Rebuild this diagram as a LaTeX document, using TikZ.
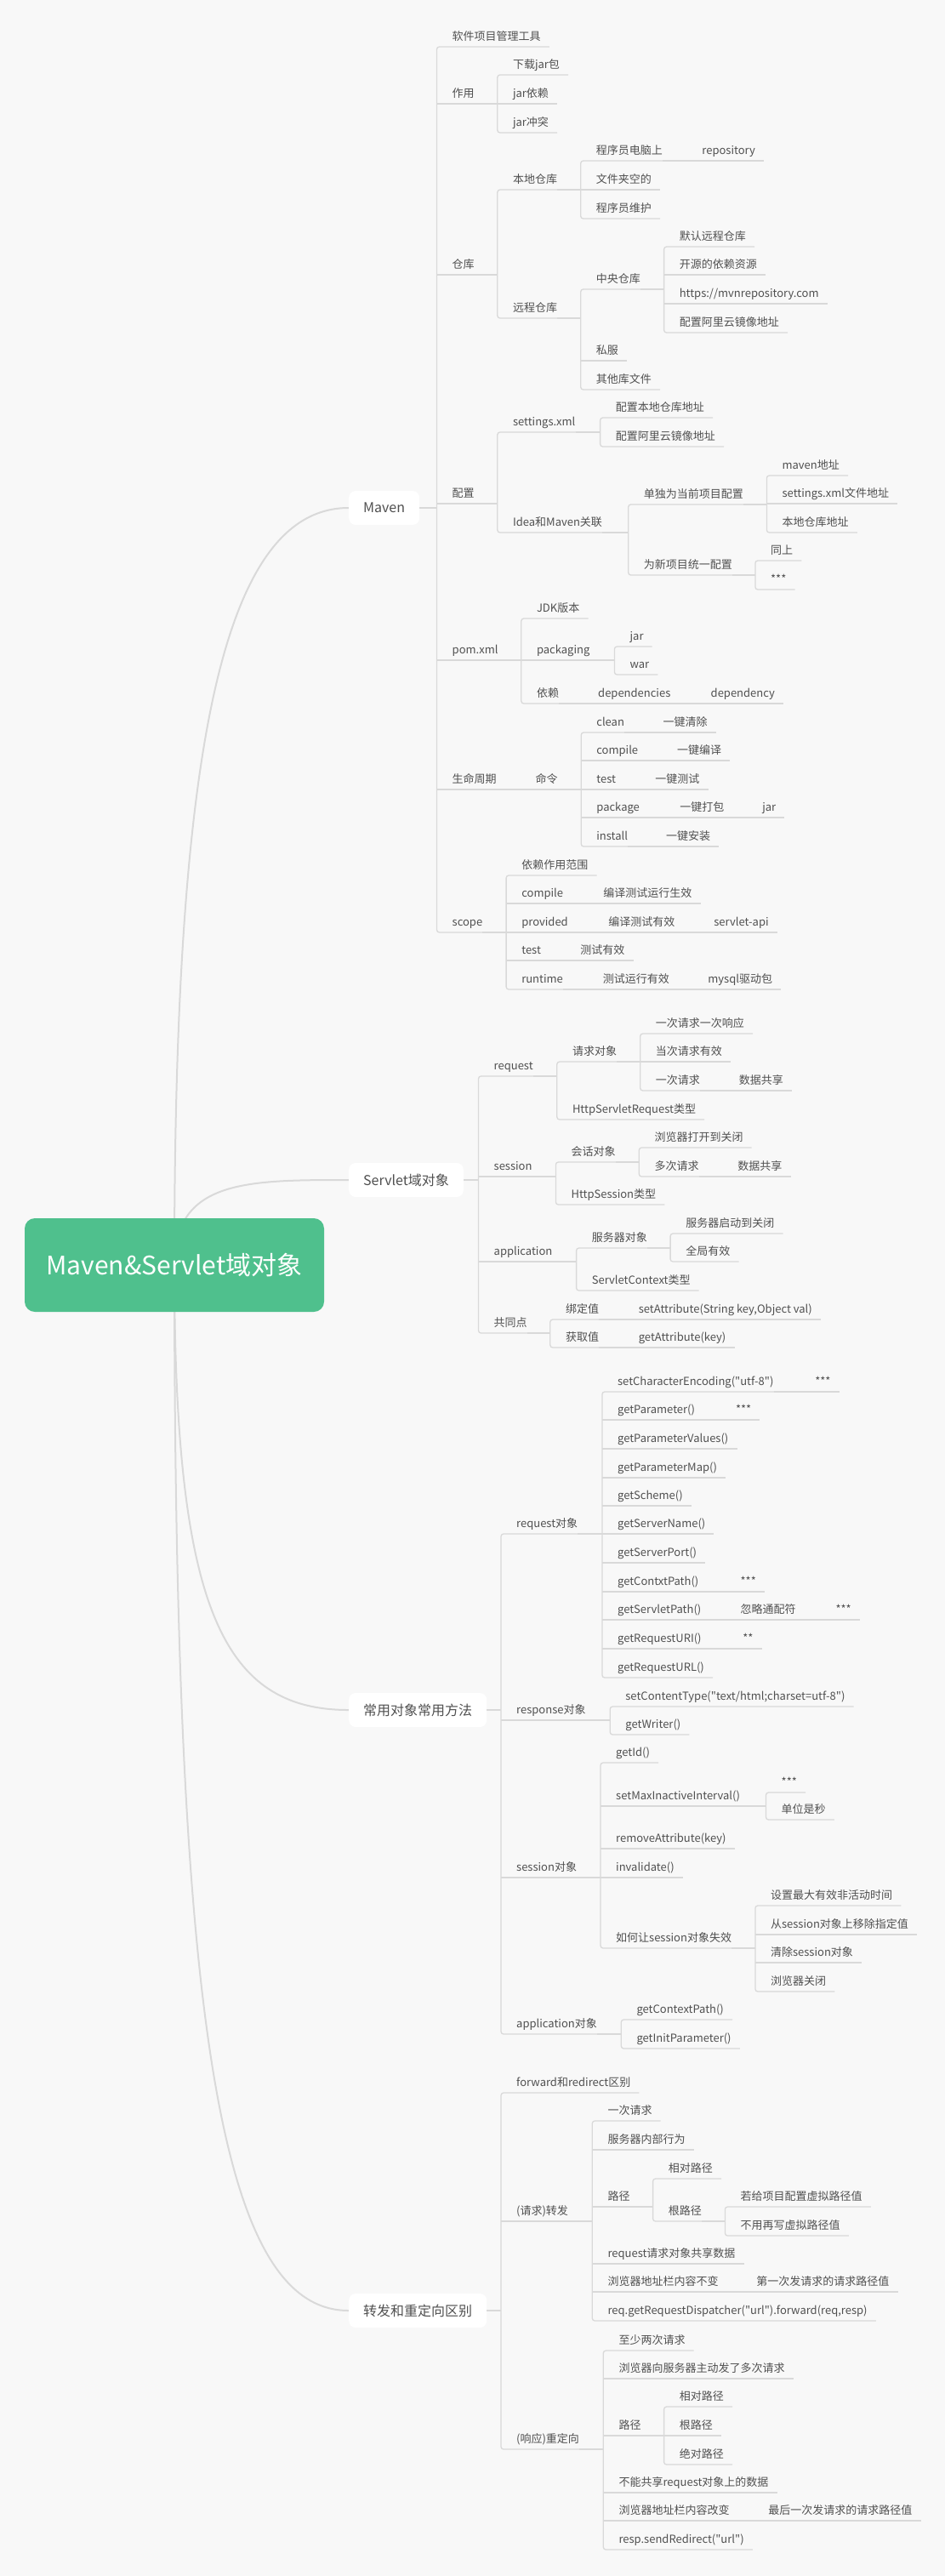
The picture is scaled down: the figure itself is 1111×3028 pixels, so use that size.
\documentclass[tikz,border=0pt]{standalone}
\usepackage{fontspec}
\setmainfont{Noto Sans CJK SC}[Ligatures=TeXOff]
\usepackage{tikz}
\usetikzlibrary{calc}
\usepackage{xcolor}

\definecolor{bgcol}{HTML}{F8F8F8}
\definecolor{linecol}{HTML}{D9D9D9}
\definecolor{txtcol}{HTML}{505050}
\definecolor{rootcol}{HTML}{4FC08D}

\pgfdeclarelayer{background}
\pgfsetlayers{background,main}

% parent, parent anchor, first child, middle children, last child
\newcommand{\mmbar}[5]{%
  \draw[link] (#1.#2) -- ($(#1.#2 -| #3.south west)+(-18,0)$);
  \draw[link, rounded corners=3pt] ([xshift=10pt]#3.south east) -- ([xshift=-18pt]#3.south west) -- ([xshift=-18pt]#5.south west) -- ([xshift=10pt]#5.south east);
  \if\relax\detokenize{#4}\relax\else
    \foreach \kid in {#4}{\draw[link] ([xshift=-18pt]\kid.south west) -- ([xshift=10pt]\kid.south east);}
  \fi}
% topic followed on the same line
\newcommand{\mmchain}[2]{\draw[link] (#1.south east) -- ([xshift=10pt]#2.south east);}

\begin{document}
\begin{tikzpicture}[
        x=1pt, y=-1pt,
        topic/.style={anchor=south west, inner xsep=0pt, inner ysep=4pt, text depth=3pt, text=txtcol, font=\fontsize{13}{15}\selectfont},
        mainbox/.style={anchor=west, fill=white, rounded corners=8pt, inner xsep=17pt, minimum height=40pt, text=txtcol, font=\fontsize{16}{19}\selectfont},
        rootbox/.style={fill=rootcol, text=white, rounded corners=12pt, minimum width=352pt, minimum height=110pt, font=\fontsize{30}{36}\selectfont},
        link/.style={draw=linecol, line width=1.3pt},
        trunk/.style={draw=linecol, line width=2pt}
      ]

      \useasboundingbox (0,0) rectangle (1111,3028);

      % Root
      \node [rootbox] (root) at (205,1487) {Maven\&Servlet域对象};

      % Maven
      \node [mainbox] (mv) at (410,597) {Maven};
      \node [topic] (mvA) at (531.5,55) {软件项目管理工具};
      \node [topic] (mvB) at (531.5,122) {作用};
      \node [topic] (mvB1) at (602.8,88) {下载jar包};
      \node [topic] (mvB2) at (602.8,122) {jar依赖};
      \node [topic] (mvB3) at (602.8,156) {jar冲突};
      \node [topic] (mvC) at (531.5,323) {仓库};
      \node [topic] (mvC1) at (602.8,223) {本地仓库};
      \node [topic] (mvC11) at (700.7,189) {程序员电脑上};
      \node [topic] (mvC111) at (825.2,189) {repository};
      \node [topic] (mvC12) at (700.7,223) {文件夹空的};
      \node [topic] (mvC13) at (700.7,257) {程序员维护};
      \node [topic] (mvC2) at (602.8,374) {远程仓库};
      \node [topic] (mvC21) at (700.7,340) {中央仓库};
      \node [topic] (mvC211) at (798.6,290) {默认远程仓库};
      \node [topic] (mvC212) at (798.6,323) {开源的依赖资源};
      \node [topic] (mvC213) at (798.6,357) {https://mvnrepository.com};
      \node [topic] (mvC214) at (798.6,391) {配置阿里云镜像地址};
      \node [topic] (mvC22) at (700.7,424) {私服};
      \node [topic] (mvC23) at (700.7,458) {其他库文件};
      \node [topic] (mvD) at (531.5,592) {配置};
      \node [topic] (mvD1) at (602.8,508) {settings.xml};
      \node [topic] (mvD11) at (723.6,491) {配置本地仓库地址};
      \node [topic] (mvD12) at (723.6,525) {配置阿里云镜像地址};
      \node [topic] (mvD2) at (602.8,626) {Idea和Maven关联};
      \node [topic] (mvD21) at (756.7,593) {单独为当前项目配置};
      \node [topic] (mvD211) at (919.4,559) {maven地址};
      \node [topic] (mvD212) at (919.4,592) {settings.xml文件地址};
      \node [topic] (mvD213) at (919.4,626) {本地仓库地址};
      \node [topic] (mvD22) at (756.7,676) {为新项目统一配置};
      \node [topic] (mvD221) at (905.9,659) {同上};
      \node [topic] (mvD222) at (905.9,693) {***};
      \node [topic] (mvE) at (531.5,776) {pom.xml};
      \node [topic] (mvE1) at (630.8,727) {JDK版本};
      \node [topic] (mvE2) at (630.8,776) {packaging};
      \node [topic] (mvE21) at (740.4,760) {jar};
      \node [topic] (mvE22) at (740.4,793) {war};
      \node [topic] (mvE3) at (630.8,827) {依赖};
      \node [topic] (mvE31) at (703,827) {dependencies};
      \node [topic] (mvE311) at (835.5,827) {dependency};
      \node [topic] (mvF) at (531.5,928) {生命周期};
      \node [topic] (mvF1) at (629.4,928) {命令};
      \node [topic] (mvF11) at (701.2,861) {clean};
      \node [topic] (mvF111) at (779.5,861) {一键清除};
      \node [topic] (mvF12) at (701.2,894) {compile};
      \node [topic] (mvF121) at (795.9,894) {一键编译};
      \node [topic] (mvF13) at (701.2,928) {test};
      \node [topic] (mvF131) at (770.2,928) {一键测试};
      \node [topic] (mvF14) at (701.2,961) {package};
      \node [topic] (mvF141) at (799.1,961) {一键打包};
      \node [topic] (mvF1411) at (896.1,961) {jar};
      \node [topic] (mvF15) at (701.2,995) {install};
      \node [topic] (mvF151) at (782.8,995) {一键安装};
      \node [topic] (mvG) at (531.5,1096) {scope};
      \node [topic] (mvG1) at (613.1,1029) {依赖作用范围};
      \node [topic] (mvG2) at (613.1,1062) {compile};
      \node [topic] (mvG21) at (709.1,1062) {编译测试运行生效};
      \node [topic] (mvG3) at (613.1,1096) {provided};
      \node [topic] (mvG31) at (715.2,1096) {编译测试有效};
      \node [topic] (mvG311) at (839.2,1096) {servlet-api};
      \node [topic] (mvG4) at (613.1,1129) {test};
      \node [topic] (mvG41) at (682.1,1129) {测试有效};
      \node [topic] (mvG5) at (613.1,1163) {runtime};
      \node [topic] (mvG51) at (708.7,1163) {测试运行有效};
      \node [topic] (mvG511) at (832.2,1163) {mysql驱动包};

      \mmbar{mv}{east}{mvA}{mvB,mvC,mvD,mvE,mvF}{mvG}
      \mmbar{mvB}{south east}{mvB1}{mvB2}{mvB3}
      \mmbar{mvC}{south east}{mvC1}{}{mvC2}
      \mmbar{mvC1}{south east}{mvC11}{mvC12}{mvC13}
      \mmchain{mvC11}{mvC111}
      \mmbar{mvC2}{south east}{mvC21}{mvC22}{mvC23}
      \mmbar{mvC21}{south east}{mvC211}{mvC212,mvC213}{mvC214}
      \mmbar{mvD}{south east}{mvD1}{}{mvD2}
      \mmbar{mvD1}{south east}{mvD11}{}{mvD12}
      \mmbar{mvD2}{south east}{mvD21}{}{mvD22}
      \mmbar{mvD21}{south east}{mvD211}{mvD212}{mvD213}
      \mmbar{mvD22}{south east}{mvD221}{}{mvD222}
      \mmbar{mvE}{south east}{mvE1}{mvE2}{mvE3}
      \mmbar{mvE2}{south east}{mvE21}{}{mvE22}
      \mmchain{mvE3}{mvE31}
      \mmchain{mvE31}{mvE311}
      \mmchain{mvF}{mvF1}
      \mmbar{mvF1}{south east}{mvF11}{mvF12,mvF13,mvF14}{mvF15}
      \mmchain{mvF11}{mvF111}
      \mmchain{mvF12}{mvF121}
      \mmchain{mvF13}{mvF131}
      \mmchain{mvF14}{mvF141}
      \mmchain{mvF141}{mvF1411}
      \mmchain{mvF15}{mvF151}
      \mmbar{mvG}{south east}{mvG1}{mvG2,mvG3,mvG4}{mvG5}
      \mmchain{mvG2}{mvG21}
      \mmchain{mvG3}{mvG31}
      \mmchain{mvG31}{mvG311}
      \mmchain{mvG4}{mvG41}
      \mmchain{mvG5}{mvG51}
      \mmchain{mvG51}{mvG511}

      % Servlet scope objects
      \node [mainbox] (sv) at (410,1387) {Servlet域对象};
      \node [topic] (svA) at (580.5,1265) {request};
      \node [topic] (svA1) at (672.8,1248) {请求对象};
      \node [topic] (svA11) at (770.7,1215) {一次请求一次响应};
      \node [topic] (svA12) at (770.7,1248) {当次请求有效};
      \node [topic] (svA13) at (770.7,1282) {一次请求};
      \node [topic] (svA131) at (868.6,1282) {数据共享};
      \node [topic] (svA2) at (672.8,1316) {HttpServletRequest类型};
      \node [topic] (svB) at (580.5,1383) {session};
      \node [topic] (svB1) at (671.4,1366) {会话对象};
      \node [topic] (svB11) at (769.3,1349) {浏览器打开到关闭};
      \node [topic] (svB12) at (769.3,1383) {多次请求};
      \node [topic] (svB121) at (867.2,1383) {数据共享};
      \node [topic] (svB2) at (671.4,1416) {HttpSession类型};
      \node [topic] (svC) at (580.5,1483) {application};
      \node [topic] (svC1) at (695.6,1467) {服务器对象};
      \node [topic] (svC11) at (806.1,1450) {服务器启动到关闭};
      \node [topic] (svC12) at (806.1,1483) {全局有效};
      \node [topic] (svC2) at (695.6,1517) {ServletContext类型};
      \node [topic] (svD) at (580.5,1567) {共同点};
      \node [topic] (svD1) at (664.8,1551) {绑定值};
      \node [topic] (svD11) at (750.6,1551) {setAttribute(String key,Object val)};
      \node [topic] (svD2) at (664.8,1584) {获取值};
      \node [topic] (svD21) at (750.6,1584) {getAttribute(key)};

      \mmbar{sv}{east}{svA}{svB,svC}{svD}
      \mmbar{svA}{south east}{svA1}{}{svA2}
      \mmbar{svA1}{south east}{svA11}{svA12}{svA13}
      \mmchain{svA13}{svA131}
      \mmbar{svB}{south east}{svB1}{}{svB2}
      \mmbar{svB1}{south east}{svB11}{}{svB12}
      \mmchain{svB12}{svB121}
      \mmbar{svC}{south east}{svC1}{}{svC2}
      \mmbar{svC1}{south east}{svC11}{}{svC12}
      \mmbar{svD}{south east}{svD1}{}{svD2}
      \mmchain{svD1}{svD11}
      \mmchain{svD2}{svD21}

      % Common objects and methods
      \node [mainbox] (cy) at (410,2010) {常用对象常用方法};
      \node [topic] (cyA) at (607,1803) {request对象};
      \node [topic] (cyA1) at (725.9,1636) {setCharacterEncoding("utf-8")};
      \node [topic] (cyA1s) at (958.1,1636) {***};
      \node [topic] (cyA2) at (725.9,1669) {getParameter()};
      \node [topic] (cyA2s) at (864.8,1669) {***};
      \node [topic] (cyA3) at (725.9,1703) {getParameterValues()};
      \node [topic] (cyA4) at (725.9,1737) {getParameterMap()};
      \node [topic] (cyA5) at (725.9,1770) {getScheme()};
      \node [topic] (cyA6) at (725.9,1803) {getServerName()};
      \node [topic] (cyA7) at (725.9,1837) {getServerPort()};
      \node [topic] (cyA8) at (725.9,1871) {getContxtPath()};
      \node [topic] (cyA8s) at (870.4,1871) {***};
      \node [topic] (cyA9) at (725.9,1904) {getServletPath()};
      \node [topic] (cyA9a) at (870.4,1904) {忽略通配符};
      \node [topic] (cyA9b) at (982.3,1904) {***};
      \node [topic] (cyA10) at (725.9,1938) {getRequestURI()};
      \node [topic] (cyA10s) at (873.2,1938) {**};
      \node [topic] (cyA11) at (725.9,1972) {getRequestURL()};
      \node [topic] (cyB) at (607,2022) {response对象};
      \node [topic] (cyB1) at (735.2,2006) {setContentType("text/html;charset=utf-8")};
      \node [topic] (cyB2) at (735.2,2039) {getWriter()};
      \node [topic] (cyC) at (607,2207) {session对象};
      \node [topic] (cyC1) at (724,2072) {getId()};
      \node [topic] (cyC2) at (724,2123) {setMaxInactiveInterval()};
      \node [topic] (cyC21) at (918.5,2107) {***};
      \node [topic] (cyC22) at (918.5,2139) {单位是秒};
      \node [topic] (cyC3) at (724,2173) {removeAttribute(key)};
      \node [topic] (cyC4) at (724,2207) {invalidate()};
      \node [topic] (cyC5) at (724,2290) {如何让session对象失效};
      \node [topic] (cyC51) at (905.9,2240) {设置最大有效非活动时间};
      \node [topic] (cyC52) at (905.9,2274) {从session对象上移除指定值};
      \node [topic] (cyC53) at (905.9,2307) {清除session对象};
      \node [topic] (cyC54) at (905.9,2341) {浏览器关闭};
      \node [topic] (cyD) at (607,2391) {application对象};
      \node [topic] (cyD1) at (748.3,2374) {getContextPath()};
      \node [topic] (cyD2) at (748.3,2408) {getInitParameter()};

      \mmbar{cy}{east}{cyA}{cyB,cyC}{cyD}
      \mmbar{cyA}{south east}{cyA1}{cyA2,cyA3,cyA4,cyA5,cyA6,cyA7,cyA8,cyA9,cyA10}{cyA11}
      \mmchain{cyA1}{cyA1s}
      \mmchain{cyA2}{cyA2s}
      \mmchain{cyA8}{cyA8s}
      \mmchain{cyA9}{cyA9a}
      \mmchain{cyA9a}{cyA9b}
      \mmchain{cyA10}{cyA10s}
      \mmbar{cyB}{south east}{cyB1}{}{cyB2}
      \mmbar{cyC}{south east}{cyC1}{cyC2,cyC3,cyC4}{cyC5}
      \mmbar{cyC2}{south east}{cyC21}{}{cyC22}
      \mmbar{cyC5}{south east}{cyC51}{cyC52,cyC53}{cyC54}
      \mmbar{cyD}{south east}{cyD1}{}{cyD2}

      % Forward and redirect
      \node [mainbox] (zf) at (410,2716) {转发和重定向区别};
      \node [topic] (zfA) at (607,2460) {forward和redirect区别};
      \node [topic] (zfB) at (607,2611) {(请求)转发};
      \node [topic] (zfB1) at (714.3,2493) {一次请求};
      \node [topic] (zfB2) at (714.3,2527) {服务器内部行为};
      \node [topic] (zfB3) at (714.3,2594) {路径};
      \node [topic] (zfB31) at (785.6,2561) {相对路径};
      \node [topic] (zfB32) at (785.6,2611) {根路径};
      \node [topic] (zfB321) at (870.4,2594) {若给项目配置虚拟路径值};
      \node [topic] (zfB322) at (870.4,2628) {不用再写虚拟路径值};
      \node [topic] (zfB4) at (714.3,2661) {request请求对象共享数据};
      \node [topic] (zfB5) at (714.3,2694) {浏览器地址栏内容不变};
      \node [topic] (zfB51) at (889.1,2694) {第一次发请求的请求路径值};
      \node [topic] (zfB6) at (714.3,2728) {req.getRequestDispatcher("url").forward(req,resp)};
      \node [topic] (zfC) at (607,2879) {(响应)重定向};
      \node [topic] (zfC1) at (727.3,2763) {至少两次请求};
      \node [topic] (zfC2) at (727.3,2796) {浏览器向服务器主动发了多次请求};
      \node [topic] (zfC3) at (727.3,2863) {路径};
      \node [topic] (zfC31) at (798.6,2829) {相对路径};
      \node [topic] (zfC32) at (798.6,2863) {根路径};
      \node [topic] (zfC33) at (798.6,2897) {绝对路径};
      \node [topic] (zfC4) at (727.3,2930) {不能共享request对象上的数据};
      \node [topic] (zfC5) at (727.3,2963) {浏览器地址栏内容改变};
      \node [topic] (zfC51) at (903.1,2963) {最后一次发请求的请求路径值};
      \node [topic] (zfC6) at (727.3,2997) {resp.sendRedirect("url")};

      \mmbar{zf}{east}{zfA}{zfB}{zfC}
      \mmbar{zfB}{south east}{zfB1}{zfB2,zfB3,zfB4,zfB5}{zfB6}
      \mmbar{zfB3}{south east}{zfB31}{}{zfB32}
      \mmbar{zfB32}{south east}{zfB321}{}{zfB322}
      \mmchain{zfB5}{zfB51}
      \mmbar{zfC}{south east}{zfC1}{zfC2,zfC3,zfC4,zfC5}{zfC6}
      \mmbar{zfC3}{south east}{zfC31}{zfC32}{zfC33}
      \mmchain{zfC5}{zfC51}

      % Paper and trunk curves
      \begin{pgfonlayer}{background}
        \fill[bgcol] (0,0) rectangle (1111,3028);
        \draw[trunk] (root.center) .. controls +(0,-600) and +(-150,0) .. (mv.west);
        \draw[trunk] (root.center) .. controls +(0,-100) and +(-120,0) .. (sv.west);
        \draw[trunk] (root.center) .. controls +(0,400) and +(-150,0) .. (cy.west);
        \draw[trunk] (root.center) .. controls +(0,900) and +(-150,0) .. (zf.west);
      \end{pgfonlayer}

    \end{tikzpicture}
\end{document}
